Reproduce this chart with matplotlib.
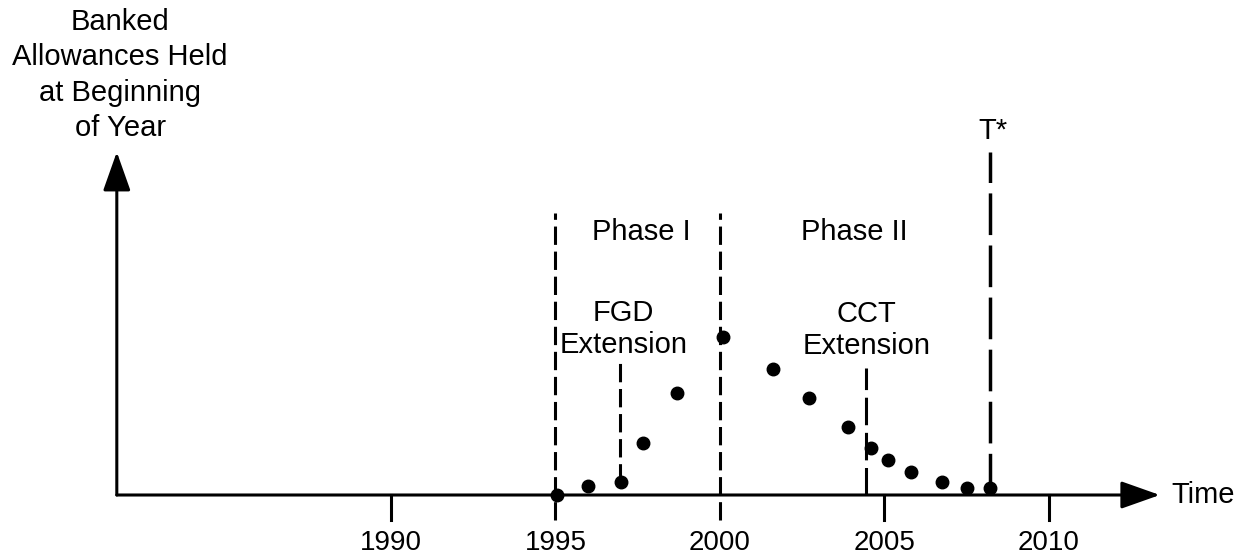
import matplotlib
matplotlib.use('Agg')
import matplotlib.pyplot as plt

plt.rcParams['font.family'] = ['Liberation Sans', 'DejaVu Sans']

# banked allowances (arbitrary units) at beginning of year
years = [1995.05, 1996.0, 1997.0, 1997.65, 1998.7, 2000.1, 2001.6, 2002.7,
         2003.9, 2004.6, 2005.1, 2005.8, 2006.75, 2007.5, 2008.2]
banked = [0, 9, 13, 52, 102, 158, 126, 97, 68, 47, 35, 23, 13, 7, 7]

tick_years = [1990, 1995, 2000, 2005, 2010]
tick_labels = ['1990', '1995', '2000', '2005', '2010']

phase_starts = [1995.0, 2000.0]
phase_names = ['Phase I', 'Phase II']
phase_label_x = [1997.6, 2004.1]
fgd_year = 1996.97
cct_year = 2004.45
t_star = 2008.2

x0, x_end = 1981.67, 2013.37   # axis origin / arrow tip
y_top = 343

fig = plt.figure(figsize=(12.47, 5.59), dpi=100)
ax = fig.add_axes([0, 0, 1, 1])
ax.set_xlim(1978.12, 2016.02)
ax.set_ylim(-64, 495)
ax.axis('off')

lw = 2.2
dash = (0, (6, 2.2))
fs = 21

# axes with arrows
arrow = dict(arrowstyle='-|>,head_length=2.4,head_width=0.85', color='black',
             lw=lw, shrinkA=0, shrinkB=0, mutation_scale=10)
ax.annotate('', xy=(x_end, 0), xytext=(x0, 0), arrowprops=arrow)
ax.annotate('', xy=(x0, y_top), xytext=(x0, 0), arrowprops=arrow)

# ticks and labels
for yr, lab in zip(tick_years, tick_labels):
    if yr not in phase_starts:
        ax.plot([yr, yr], [0, -25], color='black', lw=lw)
    ax.text(yr, -55, lab, ha='center', va='baseline', fontsize=20)

# phase boundaries
for yr in phase_starts:
    ax.plot([yr, yr], [-25, 282], color='black', lw=lw, linestyle=dash)
for xl, name in zip(phase_label_x, phase_names):
    ax.text(xl, 263, name, ha='center', va='center', fontsize=fs)

# extensions
ax.plot([fgd_year, fgd_year], [13, 132], color='black', lw=lw, linestyle=dash)
ax.text(fgd_year + 0.1, 166, 'FGD\nExtension', ha='center', va='center',
        fontsize=fs, linespacing=1.2)
ax.plot([cct_year, cct_year], [0, 127], color='black', lw=lw,
        linestyle=(0, (9, 2.5)))
ax.text(cct_year, 165, 'CCT\nExtension', ha='center', va='center',
        fontsize=fs, linespacing=1.2)

# T*
ax.plot([t_star, t_star], [0, 343], color='black', lw=lw + 0.3,
        linestyle=(0, (12, 3)))
ax.text(t_star + 0.1, 364, 'T*', ha='center', va='center', fontsize=fs)

ax.text(x_end + 0.35, 0, 'Time', ha='left', va='center', fontsize=fs)

ax.text(x0 + 0.1, 420, 'Banked\nAllowances Held\nat Beginning\nof Year',
        ha='center', va='center', fontsize=fs, linespacing=1.32)

ax.plot(years, banked, 'o', color='black', markersize=9, zorder=5)

fig.savefig('out.png', dpi=100, facecolor='white')
